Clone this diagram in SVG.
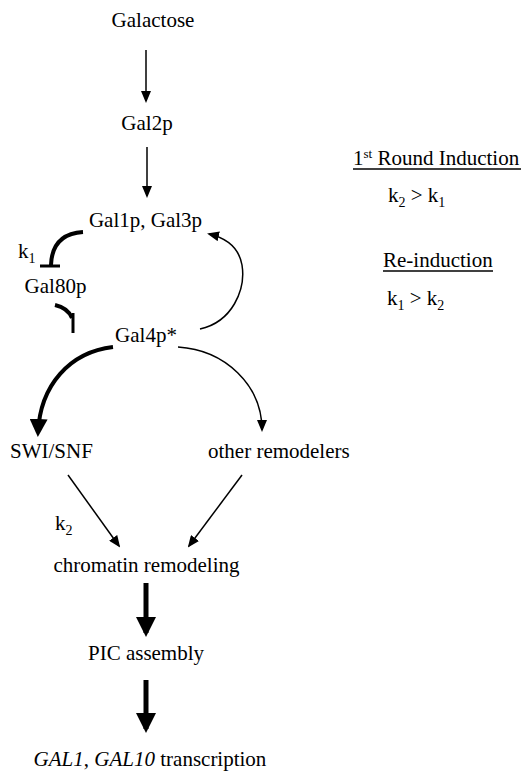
<svg xmlns="http://www.w3.org/2000/svg" width="523" height="772" viewBox="0 0 523 772">
<defs>
<style>
text{font-family:'Liberation Serif','Tinos','Nimbus Roman','Nimbus Roman No9 L','FreeSerif','Noto Serif','DejaVu Serif','Times New Roman',Times,serif;font-size:21px;fill:#000}
.sub{font-size:14px}
.sup{font-size:13px}
.thin{fill:none;stroke:#000;stroke-width:1.5}
.mid{fill:none;stroke:#000;stroke-width:4}
.thick{fill:none;stroke:#000;stroke-width:5}
.ul{stroke:#000;stroke-width:1.5}
</style>
<marker id="ah" markerUnits="userSpaceOnUse" markerWidth="12" markerHeight="10" refX="10" refY="5" orient="auto"><path d="M0,0 L12,5 L0,10 Z" fill="#000"/></marker>
<marker id="ahm" markerUnits="userSpaceOnUse" markerWidth="18" markerHeight="18" refX="14" refY="9" orient="auto"><path d="M0,0 L18,9 L0,18 Z" fill="#000"/></marker>
<marker id="ahb" markerUnits="userSpaceOnUse" markerWidth="20" markerHeight="20" refX="16" refY="10" orient="auto"><path d="M0,0 L20,10 L0,20 Z" fill="#000"/></marker>
</defs>
<g id="galactose"><text x="153" y="27" text-anchor="middle">Galactose</text></g>
<g id="gal2p"><text x="147" y="130" text-anchor="middle">Gal2p</text></g>
<g id="gal1p-gal3p"><text x="145.5" y="227" text-anchor="middle">Gal1p, Gal3p</text></g>
<g id="gal80p"><text x="55.5" y="293" text-anchor="middle">Gal80p</text></g>
<g id="gal4p"><text x="146" y="342" text-anchor="middle">Gal4p*</text></g>
<g id="swi-snf"><text x="10" y="458">SWI/SNF</text></g>
<g id="other-remodelers"><text x="208" y="458">other remodelers</text></g>
<g id="chromatin-remodeling"><text x="146.5" y="572" text-anchor="middle">chromatin remodeling</text></g>
<g id="pic-assembly"><text x="146" y="660" text-anchor="middle">PIC assembly</text></g>
<g id="transcription"><text x="150" y="766" text-anchor="middle"><tspan font-style="italic">GAL1</tspan>, <tspan font-style="italic">GAL10</tspan> transcription</text></g>

<g id="connectors">
<path class="thin" d="M146,50 V101" marker-end="url(#ah)"/>
<path class="thin" d="M147,147 V196" marker-end="url(#ah)"/>
<path class="mid" d="M83,232 Q52,234 51,265"/>
<path d="M40,266 H60" stroke="#000" stroke-width="3"/>
<path class="mid" d="M55,305 Q68,308 72,318"/>
<path d="M73,313 V333" stroke="#000" stroke-width="3"/>
<path class="thin" d="M200,329 C232,322 246,290 242,265 C239,248 226,238 209,234" marker-end="url(#ah)"/>
<path class="mid" d="M113,347 C70,352 40,385 38,433" marker-end="url(#ahm)"/>
<path class="thin" d="M178,347 C225,350 262,385 262,430" marker-end="url(#ah)"/>
<path class="thin" d="M68,475 L119,546" marker-end="url(#ah)"/>
<path class="thin" d="M242,475 L189,546" marker-end="url(#ah)"/>
<path class="thick" d="M146,583 V633" marker-end="url(#ahb)"/>
<path class="thick" d="M146,680 V729" marker-end="url(#ahb)"/>
</g>

<g id="k1-label"><text x="18" y="258">k<tspan class="sub" dy="5">1</tspan></text></g>
<g id="k2-label"><text x="55" y="530">k<tspan class="sub" dy="5">2</tspan></text></g>

<g id="legend">
<text x="353" y="165">1<tspan class="sup" dy="-7">st</tspan><tspan dy="7"> Round Induction</tspan></text>
<line class="ul" x1="353" y1="169" x2="521" y2="169"/>
<text x="388" y="202">k<tspan class="sub" dy="5">2</tspan><tspan dy="-5"> &gt; k</tspan><tspan class="sub" dy="5">1</tspan></text>
<text x="383" y="267">Re-induction</text>
<line class="ul" x1="383" y1="271" x2="493" y2="271"/>
<text x="387" y="305">k<tspan class="sub" dy="5">1</tspan><tspan dy="-5"> &gt; k</tspan><tspan class="sub" dy="5">2</tspan></text>
</g>
</svg>
